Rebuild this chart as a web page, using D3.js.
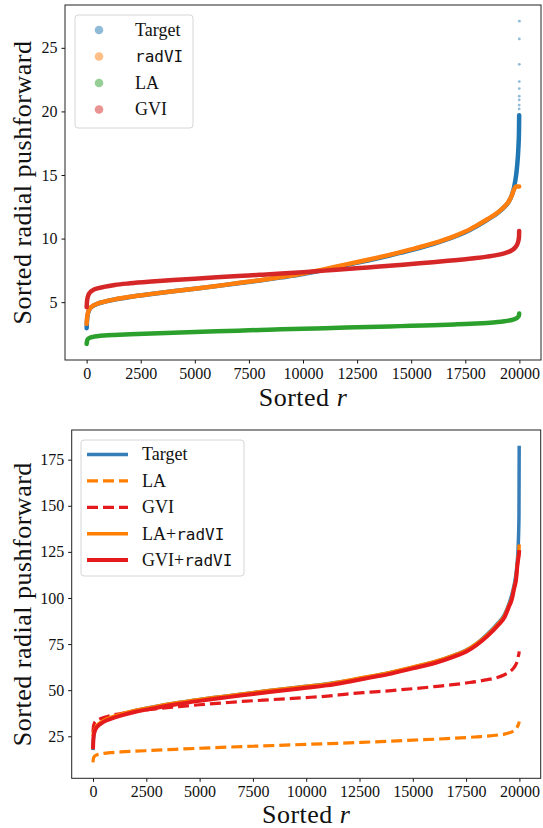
<!DOCTYPE html>
<html>
<head>
<meta charset="utf-8">
<script src="https://cdn.jsdelivr.net/npm/d3@7"></script>
<style>
  body { margin: 0; background: #fff; }
  svg { display: block; }
  text { font-family: "Liberation Serif", "DejaVu Serif", serif; fill: #111; }
  .mono { font-family: "DejaVu Sans Mono", "Liberation Mono", monospace; }
</style>
</head>
<body>
<svg id="chart" width="543" height="828"></svg>
<script>
// sorted sample index positions the curves were read at
var sampleR = [0, 20, 60, 150, 300, 500, 800, 1300, 2000, 3000, 4000, 5000, 6000, 7000, 8000, 9000,
  10000, 11000, 12000, 13000, 14000, 15000, 16000, 17000, 17500, 18000, 18500, 19000, 19300, 19500,
  19650, 19750, 19850, 19900, 19950, 19980, 19990];

// top panel (scatter of sorted samples)
var topTarget = [2.95, 3.6, 4.1, 4.48, 4.71, 4.87, 5.02, 5.21, 5.41, 5.64, 5.85, 6.05, 6.26, 6.48, 6.71, 6.95,
  7.21, 7.55, 7.92, 8.28, 8.67, 9.1, 9.57, 10.15, 10.5, 10.95, 11.46, 12.02, 12.47, 12.87,
  13.4, 14.0, 15.0, 15.8, 17.0, 18.3, 19.7];
var topTailR = [19991, 19992, 19993, 19994, 19995, 19996, 19997, 19998, 19999];
var topTailV = [20.2, 20.5, 20.9, 21.2, 21.8, 22.35, 23.7, 25.7, 27.1];
var topRadVI = [3.3, 3.75, 4.15, 4.5, 4.72, 4.88, 5.03, 5.22, 5.42, 5.65, 5.86, 6.06, 6.27, 6.5, 6.73, 6.98,
  7.25, 7.6, 7.97, 8.33, 8.72, 9.15, 9.62, 10.2, 10.55, 11.0, 11.5, 12.05, 12.5, 12.9,
  13.4, 13.85, 14.1, 14.1, 14.1, 14.1, 14.1];
var topLA = [1.72, 1.95, 2.1, 2.2, 2.27, 2.32, 2.37, 2.42, 2.47, 2.54, 2.6, 2.66, 2.71, 2.76, 2.81, 2.86,
  2.9, 2.95, 3.0, 3.04, 3.09, 3.14, 3.19, 3.25, 3.28, 3.32, 3.37, 3.44, 3.5, 3.55,
  3.6, 3.65, 3.72, 3.78, 3.86, 3.96, 4.1];
var topGVI = [4.6, 5.1, 5.45, 5.75, 5.95, 6.08, 6.2, 6.35, 6.48, 6.62, 6.74, 6.85, 6.95, 7.05, 7.15, 7.25,
  7.36, 7.48, 7.6, 7.73, 7.86, 8.0, 8.14, 8.3, 8.38, 8.47, 8.58, 8.72, 8.84, 8.95,
  9.08, 9.2, 9.4, 9.55, 9.8, 10.1, 10.6];

// bottom panel (lines)
var botTarget = [17.5, 23.5, 26.8, 29.6, 31.5, 33.2, 34.8, 36.8, 39.0, 41.3, 43.3, 45.0, 46.5, 48.0, 49.4, 50.8,
  52.1, 53.5, 55.2, 57.4, 59.7, 62.4, 65.3, 69.3, 71.7, 75.4, 80.4, 86.5, 91.0, 96.5,
  102, 107, 114, 120, 130, 145, 182.5];
var botLA = [10.8, 13, 14, 14.8, 15.3, 15.7, 16.1, 16.5, 16.9, 17.5, 18.0, 18.5, 19.0, 19.4, 19.8, 20.2,
  20.6, 21.0, 21.4, 21.9, 22.4, 22.9, 23.4, 24.0, 24.3, 24.7, 25.1, 25.7, 26.2, 26.8,
  27.4, 28.0, 29.0, 30.0, 31.3, 32.3, 33.0];
var botGVI = [27, 30.5, 32, 33.3, 34.3, 35.2, 36.2, 37.3, 38.6, 40.0, 41.0, 42.1, 43.0, 43.9, 44.6, 45.3,
  46.0, 46.8, 48.0, 48.9, 49.8, 50.8, 51.9, 53.1, 53.9, 54.7, 55.7, 57.0, 58.4, 59.6,
  61.0, 62.3, 64.3, 65.8, 68.5, 70.0, 71.0];
var botLARad = [25, 26.5, 28, 30.3, 32.0, 33.6, 35.1, 37.0, 39.1, 41.3, 43.3, 45.0, 46.5, 48.0, 49.4, 50.8,
  52.1, 53.4, 55.4, 57.6, 59.8, 62.6, 65.4, 69.3, 71.6, 75.3, 80.1, 86.0, 90.3, 95.8,
  100.3, 105.8, 111.3, 118, 123, 126.5, 129];
var botGVIRad = [18, 24, 27, 29.5, 31.2, 32.8, 34.3, 36.2, 38.3, 40.5, 42.5, 44.2, 45.7, 47.2, 48.6, 50.0,
  51.3, 52.6, 54.6, 56.8, 59.0, 61.8, 64.6, 68.5, 70.8, 74.5, 79.3, 85.2, 89.5, 95.0,
  99.5, 105, 110.5, 117, 121.5, 124, 126];

var xTicks = [0, 2500, 5000, 7500, 10000, 12500, 15000, 17500, 20000];
var topYTicks = [5, 10, 15, 20, 25];
var botYTicks = [25, 50, 75, 100, 125, 150, 175];

var svg = d3.select('#chart');

function zipR(vals) { return sampleR.map(function(r, i) { return [r, vals[i]]; }); }

function makePanel(box, allVals, yTicks, id) {
  var lo = d3.min(allVals), hi = d3.max(allVals), pad = (hi - lo) * 0.05;
  var x = d3.scaleLinear().domain([-0.05 * 19999, 19999 * 1.05]).range([box.l, box.r]);
  var y = d3.scaleLinear().domain([lo - pad, hi + pad]).range([box.b, box.t]);

  svg.append('clipPath').attr('id', id)
    .append('rect').attr('x', box.l).attr('y', box.t).attr('width', box.r - box.l).attr('height', box.b - box.t);

  var xAxis = svg.append('g').attr('transform', 'translate(0,' + box.b + ')')
    .call(d3.axisBottom(x).tickValues(xTicks).tickSize(3.5).tickPadding(4).tickFormat(d3.format('d')));
  var yAxis = svg.append('g').attr('transform', 'translate(' + box.l + ',0)')
    .call(d3.axisLeft(y).tickValues(yTicks).tickSize(3.5).tickPadding(4).tickFormat(d3.format('d')));
  [xAxis, yAxis].forEach(function(a) {
    a.select('.domain').remove();
    a.selectAll('line').attr('stroke', '#111');
    a.selectAll('text').style('font-family', '"Liberation Serif", serif').style('font-size', '16px').attr('fill', '#222');
  });

  var plot = svg.append('g').attr('clip-path', 'url(#' + id + ')');
  return { x: x, y: y, plot: plot };
}

function frame(box) {
  svg.append('rect').attr('x', box.l).attr('y', box.t).attr('width', box.r - box.l).attr('height', box.b - box.t)
    .attr('fill', 'none').attr('stroke', '#222').attr('stroke-width', 1);
}

function labels(box, cx, cy) {
  svg.append('text').attr('transform', 'translate(' + cx + ',' + ((box.t + box.b) / 2) + ') rotate(-90)')
    .attr('text-anchor', 'middle').attr('dy', '0.35em').style('font-size', '26px').style('letter-spacing', '0.5px')
    .text('Sorted radial pushforward');
  var t = svg.append('text').attr('x', (box.l + box.r) / 2).attr('y', cy)
    .attr('text-anchor', 'middle').style('font-size', '26px').style('letter-spacing', '0.5px');
  t.append('tspan').text('Sorted ');
  t.append('tspan').style('font-style', 'italic').text('r');
}

// ---------- top panel ----------
var topBox = { l: 65, r: 541, t: 5, b: 360 };
var topAll = topTarget.concat(topTailV, topRadVI, topLA, topGVI);
var P1 = makePanel(topBox, topAll, topYTicks, 'clipTop');
var line1 = d3.line().x(function(d) { return P1.x(d[0]); }).y(function(d) { return P1.y(d[1]); }).curve(d3.curveMonotoneX);

var topSeries = [
  { name: 'Target', vals: topTarget, color: '#1f77b4' },
  { name: 'radVI', vals: topRadVI, color: '#ff7f0e', mono: true },
  { name: 'LA', vals: topLA, color: '#2ca02c' },
  { name: 'GVI', vals: topGVI, color: '#d62728' }
];
topSeries.forEach(function(s, k) {
  P1.plot.append('path').datum(zipR(s.vals))
    .attr('d', line1).attr('fill', 'none').attr('stroke', s.color)
    .attr('stroke-width', 4.5).attr('stroke-linecap', 'round').attr('stroke-linejoin', 'round');
  if (k === 0) {
    P1.plot.selectAll('circle.tail').data(topTailR).enter().append('circle')
      .attr('class', 'tail')
      .attr('cx', function(d) { return P1.x(d); })
      .attr('cy', function(d, i) { return P1.y(topTailV[i]); })
      .attr('r', 1.4).attr('fill', s.color).attr('fill-opacity', 0.5);
  }
});
frame(topBox);
labels(topBox, 22, 406);

var lg1 = svg.append('g');
lg1.append('rect').attr('x', 75).attr('y', 15).attr('width', 118).attr('height', 113).attr('rx', 3)
  .attr('fill', '#fff').attr('fill-opacity', 0.8).attr('stroke', '#d6d6d6');
topSeries.forEach(function(s, i) {
  var yy = 30 + i * 26.5;
  lg1.append('circle').attr('cx', 99).attr('cy', yy).attr('r', 4.3).attr('fill', s.color).attr('fill-opacity', 0.5);
  lg1.append('text').attr('x', 135).attr('y', yy).attr('dy', '0.33em')
    .attr('class', s.mono ? 'mono' : null)
    .style('font-size', s.mono ? '16px' : '18px').text(s.name);
});

// ---------- bottom panel ----------
var botBox = { l: 71.7, r: 540.7, t: 430, b: 778.3 };
var botAll = botTarget.concat(botLA, botGVI, botLARad, botGVIRad);
var P2 = makePanel(botBox, botAll, botYTicks, 'clipBot');
var line2 = d3.line().x(function(d) { return P2.x(d[0]); }).y(function(d) { return P2.y(d[1]); }).curve(d3.curveMonotoneX);

var botSeries = [
  { label: ['Target'], vals: botTarget, color: '#377eb8', dash: null, w: 3.5 },
  { label: ['LA'], vals: botLA, color: '#ff7f00', dash: '11,5', w: 3.2 },
  { label: ['GVI'], vals: botGVI, color: '#e41a1c', dash: '11,5', w: 3.2 },
  { label: ['LA+', 'radVI'], vals: botLARad, color: '#ff7f00', dash: null, w: 3.5 },
  { label: ['GVI+', 'radVI'], vals: botGVIRad, color: '#e41a1c', dash: null, w: 4 }
];
botSeries.forEach(function(s) {
  P2.plot.append('path').datum(zipR(s.vals))
    .attr('d', line2).attr('fill', 'none').attr('stroke', s.color)
    .attr('stroke-width', s.w).attr('stroke-dasharray', s.dash);
});
frame(botBox);
labels(botBox, 22, 823);

var lg2 = svg.append('g');
lg2.append('rect').attr('x', 81).attr('y', 440).attr('width', 163).attr('height', 136).attr('rx', 3)
  .attr('fill', '#fff').attr('fill-opacity', 0.8).attr('stroke', '#d6d6d6');
botSeries.forEach(function(s, i) {
  var yy = 454.5 + i * 26.4;
  lg2.append('line').attr('x1', 87).attr('x2', 128).attr('y1', yy).attr('y2', yy)
    .attr('stroke', s.color).attr('stroke-width', s.w).attr('stroke-dasharray', s.dash);
  var t = lg2.append('text').attr('x', 142).attr('y', yy).attr('dy', '0.33em').style('font-size', '18px');
  t.append('tspan').text(s.label[0]);
  if (s.label[1]) t.append('tspan').attr('class', 'mono').style('font-size', '16px').text(s.label[1]);
});
</script>
</body>
</html>
